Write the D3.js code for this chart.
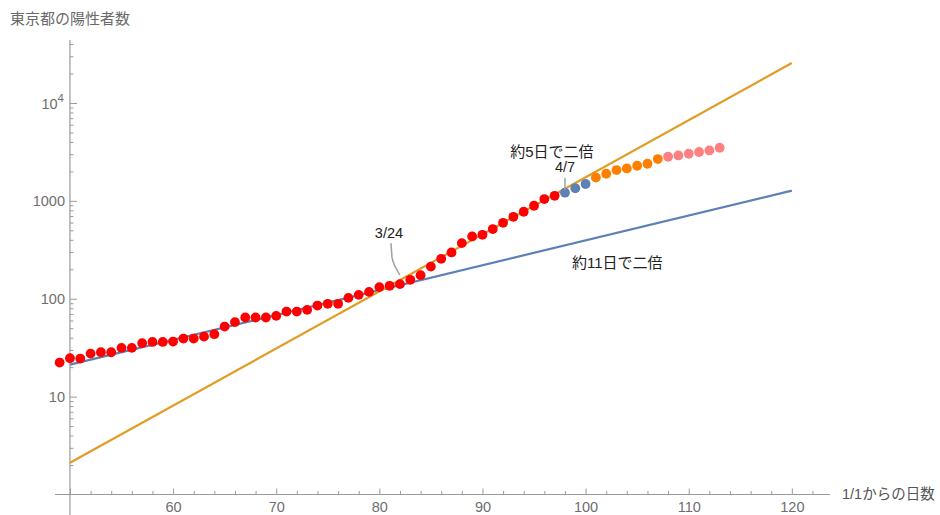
<!DOCTYPE html>
<html>
<head>
<meta charset="utf-8">
<script src="https://cdn.jsdelivr.net/npm/d3@7"></script>
<style>
  body { margin: 0; background: #fff; }
  svg { display: block; font-family: "Liberation Sans", Arial, "Noto Sans CJK JP", sans-serif; }
</style>
</head>
<body>
<svg id="chart" width="940" height="515"></svg>
<script>
// days since 1/1 and cumulative positives
const redDays = [49, 50, 51, 52, 53, 54, 55, 56, 57, 58, 59, 60, 61, 62, 63, 64, 65, 66, 67, 68, 69,
  70, 71, 72, 73, 74, 75, 76, 77, 78, 79, 80, 81, 82, 83, 84, 85, 86, 87, 88, 89,
  90, 91, 92, 93, 94, 95, 96, 97];
const redValues = [22.3, 24.7, 24.5, 27.5, 28.4, 28.4, 31.5, 31.5, 35.2, 36.2, 36.2, 36.5, 39.2, 39.2, 41, 43.4, 52, 57.7, 64.3, 64.3, 64.3,
  66.8, 74, 74, 77, 85.2, 88.7, 88.7, 102, 109.6, 117.5, 131.5, 135.5, 141, 156, 174, 213, 256, 297, 370, 433,
  450, 515, 597, 687, 774, 891, 1043, 1127];
const blueDays = [98, 99, 100];
const blueValues = [1211, 1346, 1486];
const orangeDays = [101, 102, 103, 104, 105, 106, 107];
const orangeValues = [1733, 1892, 2065, 2143, 2285, 2394, 2673];
const pinkDays = [108, 109, 110, 111, 112, 113];
const pinkValues = [2823, 2913, 3030, 3157, 3276, 3490];

// exponential fits: value at day 50 and doubling time in days
const slowFit = { base: 21.2, doubling: 11.85, from: 50, to: 120 };
const fastFit = { base: 2.11, doubling: 5.16, from: 50, to: 120 };

const xMajorTicks = [50, 60, 70, 80, 90, 100, 110, 120];
const yMajorTicks = [10, 100, 1000, 10000];

const width = 940;
const height = 515;
const svg = d3.select('#chart');

const x = d3.scaleLinear().domain([48.55, 123.7]).range([55, 830]);
const y = d3.scaleLog().domain([1, 44000]).range([494.5, 40]);

const axisColor = '#9a9a9a';
const labelColor = '#6e6e6e';
const x0 = x(50);
const y0 = y(1);

// fitted lines
const fitLine = (fit) => [fit.from, fit.to].map((d) => [d, fit.base * Math.pow(2, (d - 50) / fit.doubling)]);
const line = d3.line().x((d) => x(d[0])).y((d) => y(d[1]));

// x axis
const xAxis = svg.append('g').attr('transform', `translate(0,${y0})`);
xAxis.call(d3.axisBottom(x).tickValues(xMajorTicks).tickSize(-6).tickPadding(7)
  .tickFormat((d) => (d === 50 ? '' : d)));
xAxis.append('g').call(d3.axisBottom(x)
  .tickValues(d3.range(50, 124, 2).filter((d) => d % 10 !== 0))
  .tickSize(-3.5).tickFormat(''));
xAxis.selectAll('.domain').remove();
xAxis.selectAll('line').attr('stroke', axisColor);
xAxis.selectAll('text').attr('fill', labelColor).style('font-size', '14.5px')
  .style('font-family', '"Liberation Sans", Arial, sans-serif');
xAxis.append('line').attr('x1', x.range()[0]).attr('x2', x.range()[1])
  .attr('stroke', axisColor).attr('stroke-width', 1.2);

// y axis
const yAxis = svg.append('g').attr('transform', `translate(${x0},0)`);
yAxis.call(d3.axisLeft(y).tickValues(yMajorTicks).tickSize(-7).tickPadding(5)
  .tickFormat((d) => (d === 10000 ? '' : d)));
yAxis.append('g').call(d3.axisLeft(y)
  .tickValues(y.ticks().filter((d) => Math.log10(d) % 1 !== 0))
  .tickSize(-3.5).tickFormat(''));
yAxis.selectAll('.domain').remove();
yAxis.selectAll('line').attr('stroke', axisColor);
yAxis.selectAll('text').attr('fill', labelColor).style('font-size', '14.5px')
  .style('font-family', '"Liberation Sans", Arial, sans-serif');
yAxis.append('line').attr('y1', y.range()[1]).attr('y2', height)
  .attr('stroke', axisColor).attr('stroke-width', 1.2);

// 10^4 label with superscript
const tenK = yAxis.append('text').attr('x', -6).attr('y', y(10000) + 6)
  .attr('text-anchor', 'end').attr('fill', labelColor).style('font-size', '14.5px');
tenK.append('tspan').text('10');
tenK.append('tspan').attr('dy', -7).style('font-size', '11.5px').text('4');

// axis labels
svg.append('text').attr('x', 10).attr('y', 24).attr('fill', '#6a6a6a')
  .style('font-size', '15px').text('東京都の陽性者数');
svg.append('text').attr('x', 842).attr('y', 499).attr('fill', '#555')
  .style('font-size', '14.5px').text('1/1からの日数');

svg.append('path').datum(fitLine(slowFit)).attr('d', line)
  .attr('fill', 'none').attr('stroke', '#5e81b5').attr('stroke-width', 2.2);
svg.append('path').datum(fitLine(fastFit)).attr('d', line)
  .attr('fill', 'none').attr('stroke', '#e19c24').attr('stroke-width', 2.2);

// points
const groups = [
  { days: redDays, values: redValues, color: '#ff0000' },
  { days: blueDays, values: blueValues, color: '#5e81b5' },
  { days: orangeDays, values: orangeValues, color: '#ff8000' },
  { days: pinkDays, values: pinkValues, color: '#ff8080' },
];
groups.forEach((g) => {
  svg.append('g').selectAll('circle')
    .data(g.days.map((d, i) => [d, g.values[i]]))
    .join('circle')
    .attr('cx', (d) => x(d[0]))
    .attr('cy', (d) => y(d[1]))
    .attr('r', 4.9)
    .attr('fill', g.color);
});

// callouts
const calloutColor = '#a0a0a0';
const p324 = [x(82), y(141)];
svg.append('path')
  .attr('d', `M${p324[0] - 9},${p324[1] - 41} L${p324[0] - 8},${p324[1] - 27} Q${p324[0] - 7},${p324[1] - 20} ${p324[0]},${p324[1] - 9}`)
  .attr('fill', 'none').attr('stroke', calloutColor).attr('stroke-width', 1.5);
svg.append('text').attr('x', p324[0] - 11).attr('y', p324[1] - 46)
  .attr('text-anchor', 'middle').attr('fill', '#222').style('font-size', '14.5px').text('3/24');

const p47 = [x(98), y(1211)];
svg.append('line').attr('x1', p47[0]).attr('x2', p47[0])
  .attr('y1', p47[1] - 15).attr('y2', p47[1] - 3)
  .attr('stroke', calloutColor).attr('stroke-width', 1.5);
svg.append('text').attr('x', p47[0]).attr('y', p47[1] - 21)
  .attr('text-anchor', 'middle').attr('fill', '#222').style('font-size', '14.5px').text('4/7');
svg.append('text').attr('x', p47[0] - 13).attr('y', p47[1] - 36)
  .attr('text-anchor', 'middle').attr('fill', '#222').style('font-size', '15px').text('約5日で二倍');

svg.append('text').attr('x', 572).attr('y', 268)
  .attr('fill', '#222').style('font-size', '15px').text('約11日で二倍');
</script>
</body>
</html>
